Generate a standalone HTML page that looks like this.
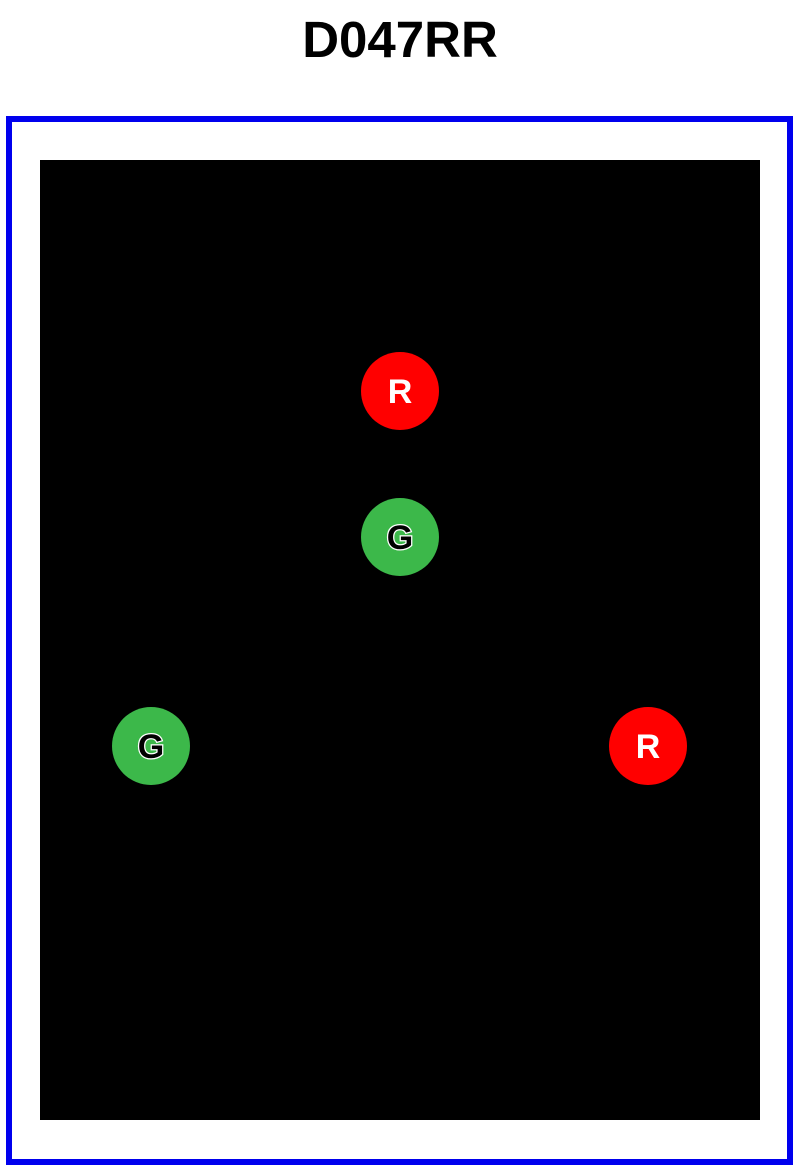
<!DOCTYPE html>
<html><head><meta charset="utf-8"><style>
html,body{margin:0;padding:0;background:#fff;width:800px;height:1169px;overflow:hidden}
</style></head><body>
<svg width="800" height="1169" xmlns="http://www.w3.org/2000/svg">
<rect width="800" height="1169" fill="#fff"/>
<text x="400" y="57" text-anchor="middle" font-family="Liberation Sans, sans-serif" font-weight="bold" font-size="51" fill="#000">D047RR</text>
<rect x="9" y="119" width="781" height="1043" fill="none" stroke="#0000ee" stroke-width="6"/>
<rect x="40" y="160" width="720" height="960" fill="#000"/>
<g font-family="Liberation Sans, sans-serif" font-weight="bold" font-size="34" text-anchor="middle">
<circle cx="400" cy="391" r="39" fill="#ff0000"/>
<text x="400" y="403" fill="#fff">R</text>
<circle cx="648" cy="746" r="39" fill="#ff0000"/>
<text x="648" y="758" fill="#fff">R</text>
<circle cx="400" cy="537" r="39" fill="#3cb84a"/>
<text x="400" y="549" fill="#000" stroke="#fff" stroke-width="2.5" paint-order="stroke">G</text>
<circle cx="151" cy="746" r="39" fill="#3cb84a"/>
<text x="151" y="758" fill="#000" stroke="#fff" stroke-width="2.5" paint-order="stroke">G</text>
</g>
</svg>
</body></html>
